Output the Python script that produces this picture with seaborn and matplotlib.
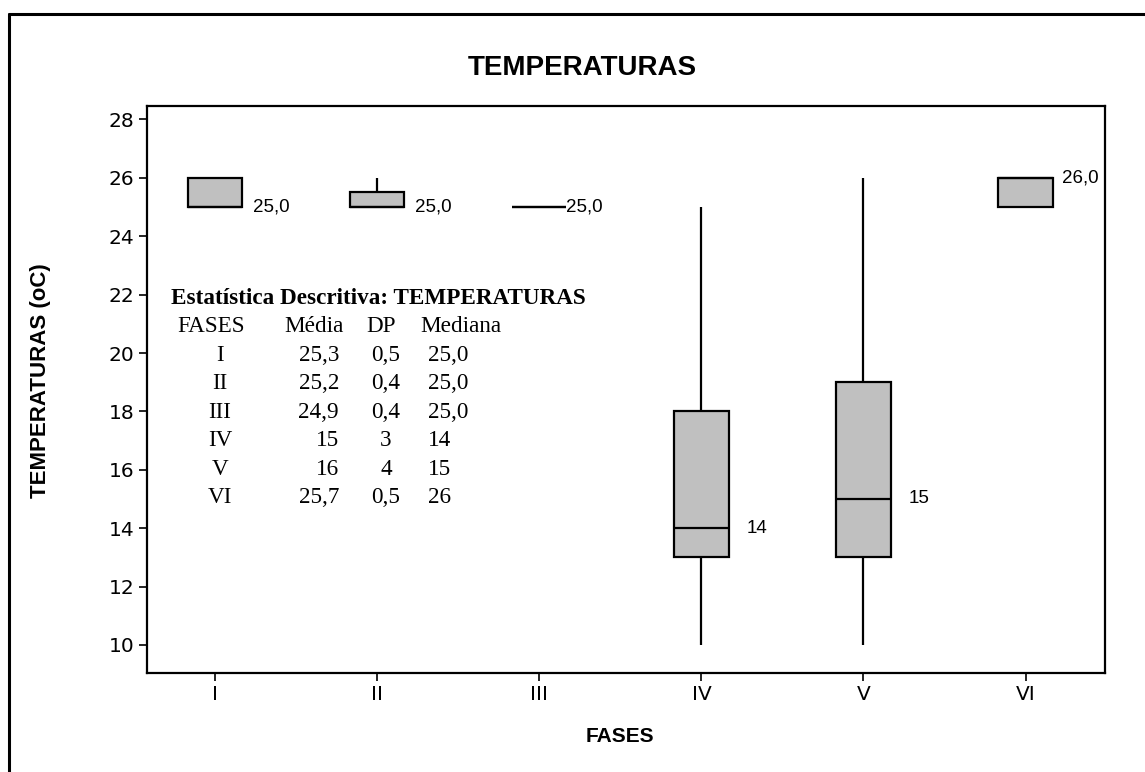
import numpy as np
import pandas as pd
import matplotlib
matplotlib.use("Agg")
import matplotlib.pyplot as plt
from matplotlib.lines import Line2D
import seaborn as sns

# ---- data (five-number summaries per phase) ----
fases = ["I", "II", "III", "IV", "V", "VI"]
minimo = [25, 25, 25, 10, 10, 25]
q1 = [25, 25, 25, 13, 13, 25]
mediana = [25, 25, 25, 14, 15, 26]
q3 = [26, 25.5, 25, 18, 19, 26]
maximo = [26, 26, 25, 25, 26, 26]
rotulos_mediana = ["25,0", "25,0", "25,0", "14", "15", "26,0"]

yticks = [10, 12, 14, 16, 18, 20, 22, 24, 26, 28]

# descriptive statistics table
tab_fases = ["I", "II", "III", "IV", "V", "VI"]
tab_media = ["25,3", "25,2", "24,9", "15", "16", "25,7"]
tab_dp = ["0,5", "0,4", "0,4", "3", "4", "0,5"]
tab_mediana = ["25,0", "25,0", "25,0", "14", "15", "26"]

# long-form frame: each phase's five-number summary as its observations
rows = []
for f, a, b, c, d, e in zip(fases, minimo, q1, mediana, q3, maximo):
    for v in (a, b, c, d, e):
        rows.append({"FASES": f, "TEMP": v})
df = pd.DataFrame(rows)

sns.set_style("ticks")
plt.rcParams["font.family"] = ["Liberation Sans", "DejaVu Sans"]
plt.rcParams["text.color"] = "black"
plt.rcParams["axes.labelcolor"] = "black"
plt.rcParams["xtick.color"] = "black"
plt.rcParams["ytick.color"] = "black"

W, H = 1145, 772
fig = plt.figure(figsize=(W / 100, H / 100), dpi=100)
L, R, T, B = 147, 1105, 106, 673
ax = fig.add_axes([L / W, 1 - B / H, (R - L) / W, (B - T) / H])

BW = 0.335
sns.boxplot(data=df, x="FASES", y="TEMP", order=fases, ax=ax,
            width=BW, color="#C0C0C0", saturation=1, linecolor="black",
            linewidth=1.6, whis=(0, 100), showcaps=False, fliersize=0)

ax.set_xlim(-0.42, 5.49)
ax.set_ylim(9.04, 28.46)
ax.set_yticks(yticks)
ax.set_yticklabels([str(t) for t in yticks], fontfamily="DejaVu Sans", fontsize=14.5)
ax.set_xticks(range(len(fases)))
ax.set_xticklabels(fases, fontfamily="DejaVu Sans", fontsize=14.5)
for s in ax.spines.values():
    s.set_visible(True)
    s.set_linewidth(1.6)
    s.set_color("black")
ax.tick_params(axis="both", direction="out", length=6, width=1.2, color="black", pad=3)

ax.set_xlabel("FASES", fontsize=15, fontweight="bold")
ax.set_ylabel("TEMPERATURAS (oC)", fontsize=16, fontweight="bold")
ax.xaxis.set_label_coords(0.494, -0.095)
ax.yaxis.set_label_coords(-0.100, 0.515)

# median labels
offs_px = [11, 11, 0, 18, 18, 9]
for i, (m, lab, o) in enumerate(zip(mediana, rotulos_mediana, offs_px)):
    ax.annotate(lab, xy=(i + BW / 2, m), xytext=(o * 0.72, 0),
                textcoords="offset points", ha="left", va="center",
                fontsize=13.5, fontfamily="Liberation Sans")

# title
fig.text(582 / W, 1 - 68 / H, "TEMPERATURAS", ha="center", va="center",
         fontsize=20, fontweight="bold")

# statistics table (pixel positions)
def ptxt(x, y, s, **kw):
    fig.text(x / W, 1 - y / H, s, va="center", fontfamily="Liberation Serif", **kw)

FS = 16.7
ptxt(171, 298, "Estatística Descritiva: TEMPERATURAS", fontsize=FS, fontweight="bold", ha="left")
ptxt(177, 327, "FASES", fontsize=FS, ha="left")
ptxt(284, 327, "Média", fontsize=FS, ha="left")
ptxt(366, 327, "DP", fontsize=FS, ha="left")
ptxt(420, 327, "Mediana", fontsize=FS, ha="left")
y0 = 355
for k in range(len(tab_fases)):
    y = y0 + k * 28.6
    ptxt(220, y, tab_fases[k], fontsize=FS, ha="center")
    ptxt(339, y, tab_media[k], fontsize=FS, ha="right")
    ptxt(386, y, tab_dp[k], fontsize=FS, ha="center")
    ptxt(428, y, tab_mediana[k], fontsize=FS, ha="left")

# outer frame
xf, yf = 9 / W, 1 - 14 / H
fig.add_artist(Line2D([xf, xf], [0, yf], transform=fig.transFigure, color="black", lw=2.2))
fig.add_artist(Line2D([xf, 1], [yf, yf], transform=fig.transFigure, color="black", lw=2.2))

fig.savefig("out.png", dpi=100, facecolor="white")
